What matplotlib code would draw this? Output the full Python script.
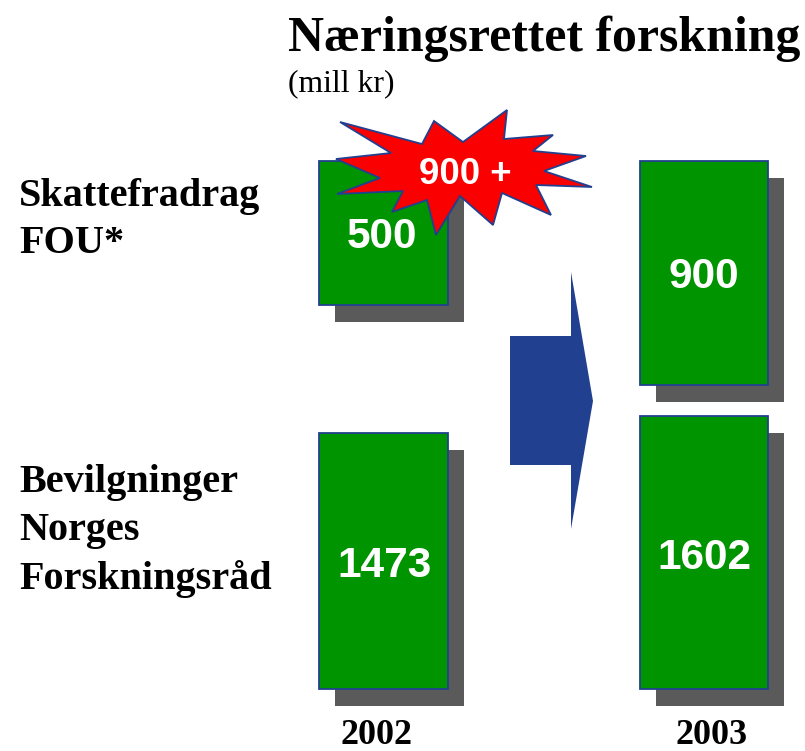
import matplotlib
matplotlib.use("Agg")
import matplotlib.pyplot as plt
from matplotlib.patches import Polygon

# Chart content
title = "Næringsrettet forskning"
unit = "(mill kr)"
years = ["2002", "2003"]
row_labels = ["Skattefradrag\nFOU*", "Bevilgninger\nNorges\nForskningsråd"]
skattefradrag = [500, 900]
bevilgninger = [1473, 1602]
burst_label = "900 +"

# Drawn geometry, in reference pixels (the bars are not to scale with their values)
bar_left = [319, 640]
bar_width = [129, 128]
top_bar_top = [161, 161]
top_bar_height = [144, 224]
low_bar_top = [433, 416]
low_bar_height = [256, 273]
shadow_dx, shadow_dy = 16, 17

burst_x = [340, 422, 434, 463, 507, 504, 553, 533, 586, 544, 592, 536, 551, 502, 493, 460, 436, 427, 392, 403, 337, 380, 336, 391]
burst_y = [122, 144, 121, 142, 110, 139, 135, 151, 156, 171, 187, 185, 215, 193, 225, 196, 235, 200, 212, 191, 194, 178, 159, 153]
arrow_x = [510, 571, 571, 593, 571, 571, 510]
arrow_y = [336, 336, 272, 401, 529, 465, 465]

GREEN, NAVY, GREY, RED = "#009400", "#21408f", "#5a5a5a", "#fa0000"
SERIF = "Liberation Serif"
SANS = "Liberation Sans"

fig = plt.figure(figsize=(8.05, 7.51), dpi=100)
ax = fig.add_axes([0, 0, 1, 1])
ax.set_xlim(0, 805)
ax.set_ylim(751, 0)
ax.axis("off")

tops = [top_bar_top, low_bar_top]
heights = [top_bar_height, low_bar_height]
values = [skattefradrag, bevilgninger]
label_x = [[382, 704], [384, 704]]
label_y = [[237, 277], [566, 558]]

for row in range(2):
    for c in range(2):
        ax.bar(bar_left[c] + shadow_dx, heights[row][c], width=bar_width[c],
               bottom=tops[row][c] + shadow_dy, align="edge", color=GREY, zorder=1)
for row in range(2):
    for c in range(2):
        ax.bar(bar_left[c], heights[row][c], width=bar_width[c], bottom=tops[row][c],
               align="edge", color=GREEN, edgecolor=NAVY, linewidth=1.3, zorder=2)
        ax.text(label_x[row][c], label_y[row][c], str(values[row][c]),
                color="white", family=SANS, weight="bold", fontsize=30.5,
                ha="center", va="center", zorder=3)

ax.add_patch(Polygon(list(zip(burst_x, burst_y)), closed=True, facecolor=RED,
                     edgecolor=NAVY, linewidth=1.3, joinstyle="miter", zorder=4))
ax.text(465, 175, burst_label, color="white", family=SANS, weight="bold",
        fontsize=26.4, ha="center", va="center", zorder=5)

ax.add_patch(Polygon(list(zip(arrow_x, arrow_y)), closed=True, facecolor=NAVY,
                     edgecolor="none", zorder=2))

ax.text(288, 39, title, family=SERIF, weight="bold", fontsize=35.8, ha="left", va="center", color="black")
ax.text(288, 84, unit, family=SERIF, fontsize=22.8, ha="left", va="center", color="black")

ax.text(19, 220, row_labels[0], family=SERIF, weight="bold", fontsize=29,
        ha="left", va="center", linespacing=1.38, color="black")
ax.text(19, 531, row_labels[1], family=SERIF, weight="bold", fontsize=29,
        ha="left", va="center", linespacing=1.38, color="black")

for x, y in zip([376, 712], years):
    ax.text(x, 736, y, family=SERIF, weight="bold", fontsize=26, ha="center", va="center", color="black")

fig.savefig("out.png", dpi=100)
